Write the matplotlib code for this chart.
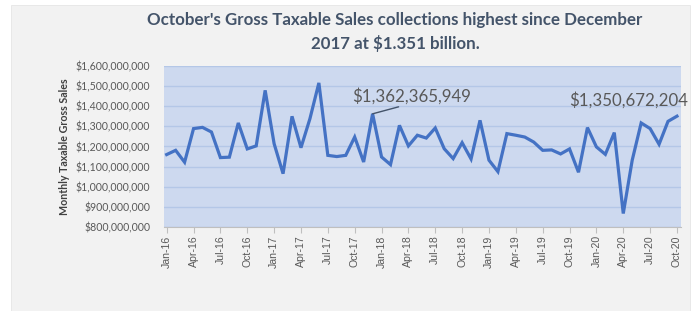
import matplotlib
matplotlib.use("Agg")
import matplotlib.pyplot as plt
from matplotlib.patches import Rectangle
from matplotlib.ticker import FuncFormatter

# monthly taxable gross sales, Jan-16 .. Oct-20 (millions of $)
months = [
    "Jan-16", "Feb-16", "Mar-16", "Apr-16", "May-16", "Jun-16", "Jul-16", "Aug-16", "Sep-16", "Oct-16", "Nov-16", "Dec-16",
    "Jan-17", "Feb-17", "Mar-17", "Apr-17", "May-17", "Jun-17", "Jul-17", "Aug-17", "Sep-17", "Oct-17", "Nov-17", "Dec-17",
    "Jan-18", "Feb-18", "Mar-18", "Apr-18", "May-18", "Jun-18", "Jul-18", "Aug-18", "Sep-18", "Oct-18", "Nov-18", "Dec-18",
    "Jan-19", "Feb-19", "Mar-19", "Apr-19", "May-19", "Jun-19", "Jul-19", "Aug-19", "Sep-19", "Oct-19", "Nov-19", "Dec-19",
    "Jan-20", "Feb-20", "Mar-20", "Apr-20", "May-20", "Jun-20", "Jul-20", "Aug-20", "Sep-20", "Oct-20",
]
sales_m = [
    1160, 1181, 1122, 1289, 1295, 1272, 1145, 1147, 1317, 1188, 1203, 1479,
    1214, 1065, 1350, 1194, 1338, 1516, 1156, 1150, 1156, 1247, 1123, 1362.365949,
    1148, 1110, 1305, 1203, 1256, 1242, 1292, 1189, 1140, 1219, 1138, 1330,
    1132, 1075, 1264, 1256, 1247, 1222, 1181, 1183, 1163, 1188, 1072, 1294,
    1198, 1161, 1269, 867, 1132, 1317, 1289, 1211, 1325, 1350.672204,
]
sales = [v * 1e6 for v in sales_m]

callouts = {23: "$1,362,365,949", 57: "$1,350,672,204"}
title = "October's Gross Taxable Sales collections highest since December\n2017 at $1.351 billion."

calibri_like = ["Lato", "DejaVu Sans"]
arial_like = ["Liberation Sans", "DejaVu Sans"]

fig = plt.figure(figsize=(6.97, 3.11), dpi=100)
fig.patch.set_facecolor("white")
# grey chart panel behind everything
fig.patches.append(Rectangle((11 / 697, 0), 679 / 697, 306 / 311,
                             transform=fig.transFigure, facecolor="#F2F2F2",
                             edgecolor="#E6E6E6", lw=0.6, zorder=-10))

ax = fig.add_axes([164 / 697, 84 / 311, 517 / 697, 161 / 311])
ax.set_facecolor("#CDD9EF")

x = list(range(len(months)))
ax.plot(x, sales, color="#4472C4", lw=2.3, solid_joinstyle="miter", zorder=3)

ax.set_ylim(800e6, 1600e6)
ax.set_yticks([800e6 + i * 100e6 for i in range(9)])
ax.yaxis.set_major_formatter(FuncFormatter(lambda v, p: f"${v:,.0f}"))
ax.grid(axis="y", color="#B4C7E7", lw=1.0)
ax.set_axisbelow(True)

ax.set_xlim(-0.3, len(months) - 1 + 0.45)
ax.set_xticks(x[::3])
ax.set_xticklabels(months[::3], rotation=90, family=arial_like, fontsize=7.6, color="#595959")

for lab in ax.get_yticklabels():
    lab.set_family(calibri_like)
    lab.set_fontsize(7.6)
    lab.set_color("#595959")

ax.tick_params(axis="y", length=0, pad=10)
ax.tick_params(axis="x", length=4, color="#BFBFBF", pad=2)
for side in ["top", "right", "left"]:
    ax.spines[side].set_visible(False)
ax.spines["bottom"].set_color("#BFBFBF")

ax.set_ylabel("Monthly Taxable Gross Sales", family=calibri_like, fontsize=7.7,
              fontweight="bold", color="#404040", labelpad=4)

# callouts
i = 23
ax.annotate("", xy=(i, sales[i]), xytext=(26, 7), textcoords="offset pixels",
            arrowprops=dict(arrowstyle="-", color="#44546A", lw=1.0, shrinkA=0, shrinkB=0))
ax.annotate(callouts[i], xy=(i, sales[i]), xytext=(39, 18), textcoords="offset pixels",
            ha="center", va="center", family=calibri_like, fontsize=12.2, color="#595959")
i = 57
ax.annotate(callouts[i], xy=(i, sales[i]), xytext=(-48, 16), textcoords="offset pixels",
            ha="center", va="center", family=calibri_like, fontsize=12.2, color="#595959",
            annotation_clip=False)

fig.text(395 / 697, 1 - 32 / 311, title, ha="center", va="center", family=calibri_like,
         fontsize=12.2, fontweight="bold", color="#44546A", linespacing=1.55)

fig.savefig("out.png", dpi=100)
